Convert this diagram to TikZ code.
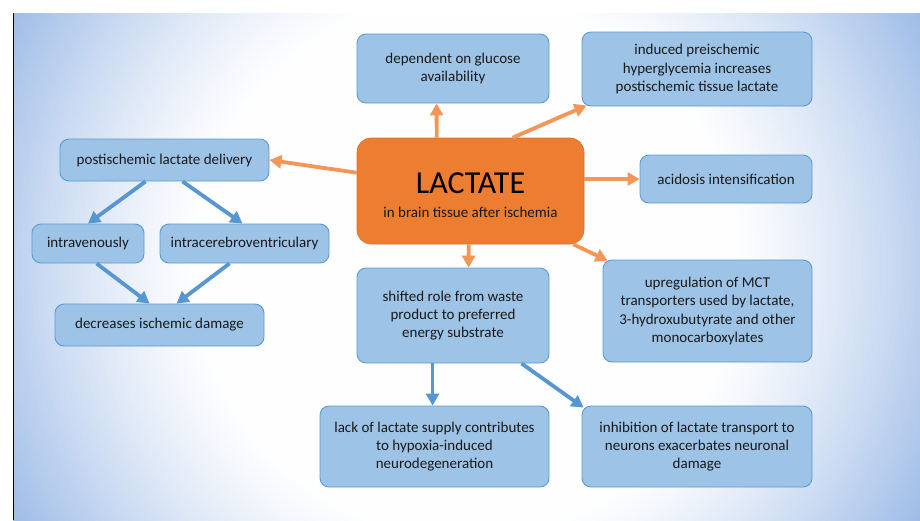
\documentclass[tikz,border=0pt]{standalone}
\usepackage{fontspec}
\setmainfont{Carlito}
\usetikzlibrary{arrows.meta}
\definecolor{bgblue}{RGB}{155,186,230}
\definecolor{boxfill}{RGB}{157,195,230}
\definecolor{boxline}{RGB}{91,155,213}
\definecolor{lacorange}{RGB}{237,125,49}
\definecolor{arrorange}{RGB}{244,150,85}
\definecolor{arrblue}{RGB}{86,150,210}
\begin{document}
\begin{tikzpicture}[x=1pt,y=-1pt,
  infobox/.style={draw=boxline, line width=0.9pt, fill=boxfill, rounded corners=9pt,
    inner sep=0pt, align=center, font=\fontsize{15}{18.3}\selectfont, text=black!90},
  lacbox/.style={draw=lacorange!90!black, line width=0.6pt, fill=lacorange, rounded corners=14pt, inner sep=0pt},
  oarrow/.style={draw=arrorange, line width=3.8pt, -{Triangle[length=12pt,width=13pt]}},
  barrow/.style={draw=arrblue, line width=3.8pt, -{Triangle[length=12pt,width=13pt]}}]
\useasboundingbox (0,0) rectangle (920,520);
\begin{scope}
  \clip (13,13) rectangle (920,520);
  \fill[white] (13,13) rectangle (920,520);
  \foreach \i in {0,...,55} {
    \pgfmathsetmacro{\rad}{545-5*\i}
    \pgfmathsetmacro{\frac}{min(100,100*((max(\rad-265,0))/265)^1.25)}
    \fill[bgblue!\frac!white] (466,266) circle (\rad pt);
  }
\end{scope}
\draw[black, line width=1pt] (13.5,13) -- (13.5,520);

\node[infobox, minimum width=192pt, minimum height=69pt] (dep) at (453,68.5) {dependent on glucose\\availability};
\node[infobox, minimum width=230pt, minimum height=74pt] (ind) at (697,69) {induced preischemic\\hyperglycemia increases\\postischemic tissue lactate};
\node[infobox, minimum width=209pt, minimum height=42pt] (post) at (164.5,160) {postischemic lactate delivery};
\node[lacbox, minimum width=227pt, minimum height=106pt] (lac) at (470.5,191) {};
\node[font=\fontsize{32}{32}\selectfont, text=black, inner sep=0pt] (lactitle) at (470.5,183) {LACTATE};
\node[font=\fontsize{15}{18}\selectfont, text=black!90, inner sep=0pt] (lacsub) at (470.5,212) {in brain tissue after ischemia};
\node[infobox, minimum width=172pt, minimum height=48pt] (acid) at (726,179) {acidosis intensification};
\node[infobox, minimum width=112pt, minimum height=39pt] (iv) at (88,243.5) {intravenously};
\node[infobox, minimum width=169pt, minimum height=39pt] (icv) at (244.5,243.5) {intracerebroventriculary};
\node[infobox, minimum width=209pt, minimum height=42pt] (dec) at (159.5,325) {decreases ischemic damage};
\node[infobox, minimum width=192pt, minimum height=95pt] (shift) at (453,315.5) {shifted role from waste\\product to preferred\\energy substrate};
\node[infobox, minimum width=209pt, minimum height=102pt] (upr) at (707.5,311) {upregulation of MCT\\transporters used by lactate,\\3-hydroxubutyrate and other\\monocarboxylates};
\node[infobox, minimum width=229pt, minimum height=81pt] (lack) at (434.5,446.5) {lack of lactate supply contributes\\to hypoxia-induced\\neurodegeneration};
\node[infobox, minimum width=230pt, minimum height=81pt] (inh) at (697,446.5) {inhibition of lactate transport to\\neurons exacerbates neuronal\\damage};

% orange arrows
\draw[oarrow] ([xshift=80pt]lac.north west) -- ([xshift=80pt]dep.south west);
\draw[oarrow] ([xshift=156pt]lac.north west) -- ([xshift=5pt,yshift=1pt]ind.south west);
\draw[oarrow] ([yshift=-35pt]lac.north west) -- (post.east);
\draw[oarrow] (lac.east |- acid.west) -- (acid.west);
\draw[oarrow] ([xshift=112pt]lac.south west) -- ([xshift=112pt]shift.north west);
\draw[oarrow] ([xshift=-11pt]lac.south east) -- ([xshift=5pt,yshift=-1pt]upr.north west);

% blue arrows
\draw[barrow] ([xshift=86pt]post.south west) -- (iv.north);
\draw[barrow] ([xshift=123pt]post.south west) -- ([xshift=83pt]icv.north west);
\draw[barrow] ([xshift=65pt]iv.south west) -- ([xshift=95pt]dec.north west);
\draw[barrow] ([xshift=70pt]icv.south west) -- ([xshift=122pt]dec.north west);
\draw[barrow] ([xshift=76pt]shift.south west) -- ([xshift=113pt]lack.north west);
\draw[barrow] ([xshift=165pt]shift.south west) -- ([xshift=2pt,yshift=-2pt]inh.north west);
\end{tikzpicture}
\end{document}
